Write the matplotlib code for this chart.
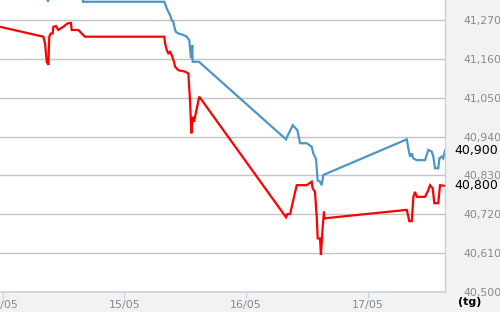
import matplotlib.pyplot as plt

# Dữ liệu (ngày trong tháng 5, giá)
blue_x = [13.978, 14.345, 14.372, 14.397, 14.655, 14.660, 15.328, 15.348, 15.375,
          15.389, 15.402, 15.410, 15.422, 15.443, 15.484, 15.512, 15.533, 15.547,
          15.558, 15.561, 15.612, 16.328, 16.339, 16.383, 16.421, 16.443, 16.498,
          16.539, 16.552, 16.574, 16.588, 16.607, 16.621, 16.634, 17.320, 17.333,
          17.347, 17.361, 17.374, 17.402, 17.470, 17.497, 17.525, 17.538, 17.552,
          17.579, 17.588, 17.607, 17.620, 17.634]
blue_y = [41345, 41345, 41323, 41345, 41345, 41322, 41322, 41303, 41284,
          41270, 41265, 41251, 41237, 41232, 41228, 41223, 41213, 41162,
          41199, 41152, 41152, 40932, 40941, 40972, 40958, 40921, 40921,
          40911, 40892, 40877, 40815, 40812, 40802, 40831, 40932, 40906,
          40883, 40892, 40878, 40873, 40873, 40902, 40897, 40883, 40850,
          40850, 40878, 40883, 40878, 40900]

red_x = [13.978, 14.334, 14.348, 14.362, 14.375, 14.383, 14.394, 14.411, 14.416,
         14.438, 14.457, 14.498, 14.534, 14.561, 14.567, 14.621, 14.676, 15.328,
         15.334, 15.348, 15.361, 15.375, 15.389, 15.397, 15.408, 15.416, 15.443,
         15.498, 15.525, 15.539, 15.550, 15.561, 15.572, 15.615, 16.328, 16.339,
         16.361, 16.416, 16.498, 16.539, 16.547, 16.566, 16.580, 16.588, 16.607,
         16.615, 16.629, 16.640, 16.642, 17.320, 17.341, 17.361, 17.374, 17.388,
         17.402, 17.470, 17.497, 17.511, 17.533, 17.546, 17.579, 17.593, 17.634]
red_y = [41251, 41223, 41204, 41152, 41143, 41223, 41232, 41232, 41251,
         41253, 41242, 41251, 41261, 41262, 41242, 41242, 41223, 41223,
         41204, 41185, 41176, 41180, 41171, 41162, 41152, 41138, 41128,
         41124, 41119, 41043, 40949, 40996, 40982, 41053, 40711, 40720,
         40720, 40802, 40802, 40812, 40793, 40783, 40713, 40651, 40651,
         40604, 40684, 40727, 40708, 40732, 40700, 40700, 40769, 40783,
         40769, 40769, 40788, 40802, 40793, 40751, 40751, 40802, 40800]

day_ticks = [14, 15, 16, 17]
day_labels = ['14/05', '15/05', '16/05', '17/05']
y_ticks = [40500, 40610, 40720, 40830, 40940, 41050, 41160, 41270]
last_blue = 40900
last_red = 40800

fig = plt.figure(figsize=(5, 3.12), dpi=100, facecolor='#f2f2f2')
ax = fig.add_axes([0, 0.065, 0.89, 0.935])
ax.set_facecolor('white')

ax.plot(blue_x, blue_y, color='#4a96c8', linewidth=1.6, solid_joinstyle='miter')
ax.plot(red_x, red_y, color='#ff0000', linewidth=1.6, solid_joinstyle='miter')

ax.set_xlim(13.978, 17.634)
ax.set_ylim(40500, 41327)

ax.set_yticks(y_ticks)
ax.set_yticklabels([f'{v:,}' for v in y_ticks])
ax.yaxis.tick_right()
ax.tick_params(axis='y', length=0, pad=13, labelsize=7.8, labelcolor='#8a8a8a')
ax.grid(axis='y', color='#c4c4c4', linewidth=1)

ax.set_xticks(day_ticks)
ax.set_xticklabels(day_labels)
ax.tick_params(axis='x', length=4, width=1, color='#c5d5e5', pad=2,
               labelsize=8, labelcolor='#8a8a8a')

for s in ['top', 'left']:
    ax.spines[s].set_visible(False)
ax.spines['bottom'].set_color('#c5d5e5')
ax.spines['bottom'].set_linewidth(1.2)
ax.spines['right'].set_color('#d0d0d0')
ax.spines['right'].set_linewidth(1)

# nhãn giá cuối
tr = ax.get_yaxis_transform()
ax.text(1.022, last_blue, f'{last_blue:,}', transform=tr, fontsize=9,
        color='black', va='center', ha='left')
ax.text(1.022, last_red, f'{last_red:,}', transform=tr, fontsize=9,
        color='black', va='center', ha='left')

fig.text(0.916, 0.033, '(tg)', fontsize=8, fontweight='bold', color='black',
         va='center', ha='left')

fig.savefig('out.png', dpi=100, facecolor=fig.get_facecolor())
